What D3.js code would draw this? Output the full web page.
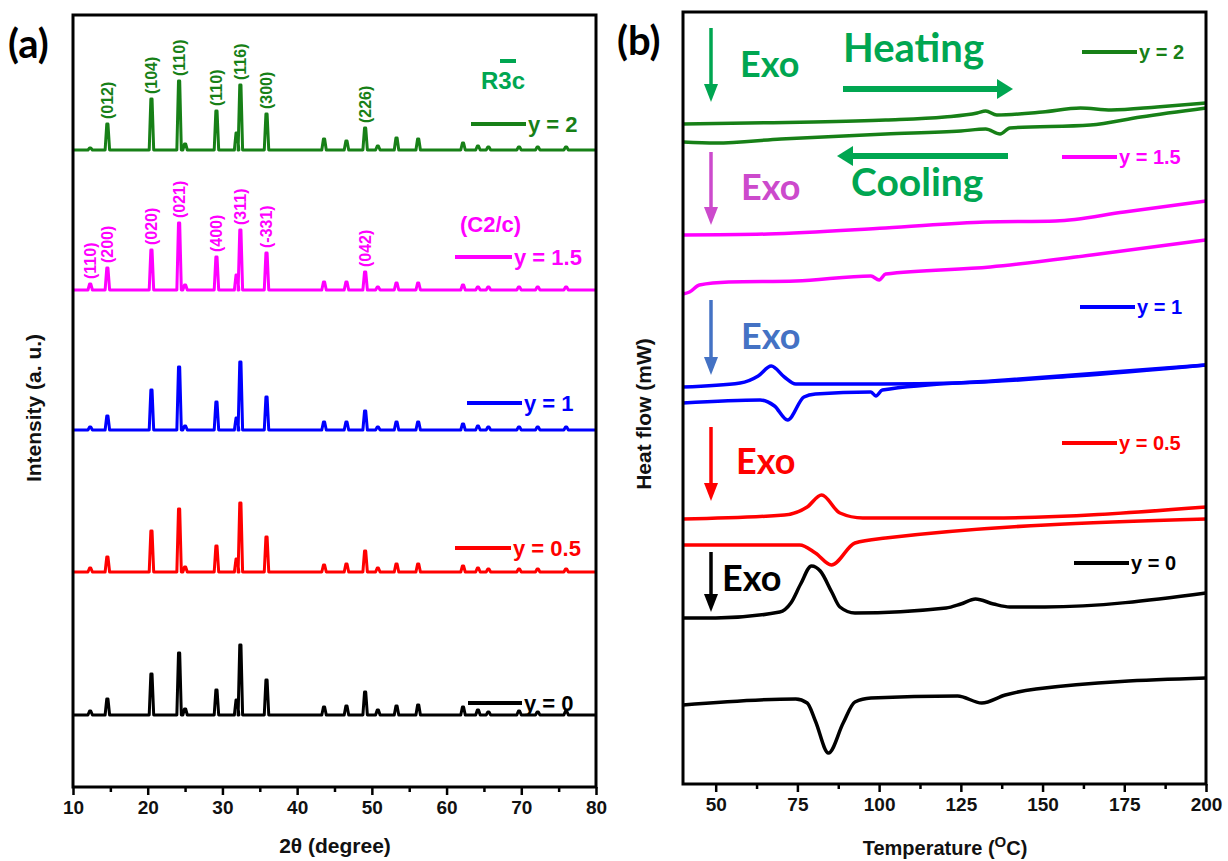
<!DOCTYPE html>
<html>
<head>
<meta charset="utf-8">
<script src="https://cdn.jsdelivr.net/npm/d3@7"></script>
<style>
body { margin: 0; background: #fff; }
text { font-family: "Liberation Sans", Arial, sans-serif; font-weight: bold; }
.cal { font-family: Lato, "Open Sans", sans-serif; font-weight: 700; }
</style>
</head>
<body>
<div class="container"></div>
<script>
// ---------- panel (a) : XRD ----------
var xrdNames = ["y = 0", "y = 0.5", "y = 1", "y = 1.5", "y = 2"];
var xrdColors = ["#000000", "#ff0000", "#0000ff", "#ff00ff", "#178017"];
var xrdBase = [72, 215, 357, 497, 637]; // baseline of each pattern (a.u.)
var peakPos = [12.3, 14.6, 20.5, 24.2, 25.0, 29.2, 31.9, 32.4, 35.9, 43.6, 46.6, 49.1, 50.8, 53.3, 56.2, 62.2, 64.2, 65.6, 69.7, 72.2, 76.0];
var peakH0 = [4, 16, 41, 62, 6, 25, 15, 70, 35, 8, 9, 23, 5, 9, 10, 8, 5, 3, 4, 3, 4];
var peakH05 = [4, 15, 41, 63, 5, 26, 13, 69, 35, 7, 8, 21, 4, 8, 8, 6, 4, 3, 3, 3, 3];
var peakH1 = [3, 14, 40, 63, 4, 28, 12, 68, 33, 8, 8, 19, 3, 8, 8, 6, 4, 3, 3, 3, 3];
var peakH15 = [6, 22, 40, 67, 5, 33, 15, 60, 37, 8, 8, 18, 3, 7, 7, 5, 3, 3, 3, 3, 3];
var peakH2 = [2, 26, 51, 69, 6, 39, 17, 65, 36, 11, 9, 22, 4, 12, 11, 7, 4, 3, 3, 3, 3];
var xrdHeights = [peakH0, peakH05, peakH1, peakH15, peakH2];

var hklR3c = ["(012)", "(104)", "(110)", "(110)", "(116)", "(300)", "(226)"];
var hklR3cPos = [14.6, 20.5, 24.2, 29.2, 32.4, 35.9, 49.1];
var hklC2c = ["(110)", "(200)", "(020)", "(021)", "(400)", "(311)", "(-331)", "(042)"];
var hklC2cPos = [12.3, 14.6, 20.5, 24.2, 29.2, 32.4, 35.9, 49.1];

var xTicksA = [10, 20, 30, 40, 50, 60, 70, 80];

// ---------- panel (b) : DSC, [T, heat flow a.u.] ----------
var dscNames = ["y = 0", "y = 0.5", "y = 1", "y = 1.5", "y = 2"];
var dscColors = ["#000000", "#ff0000", "#0000ff", "#ff00ff", "#178017"];
var dscHeat0 = [[40,166],[50,166],[69.6,172],[73,181],[76,200],[79.3,218],[82,213],[85.5,192],[88,177],[92.6,171],[120.5,176],[125,180],[129.5,185],[135,180],[140,177],[150.7,177],[200,191]];
var dscCool0 = [[40,79],[74.5,85],[78,81],[80.5,63],[84.5,31],[89,61],[92.6,82],[97.5,86],[124,88],[131.4,81],[138.6,89],[148,95],[200,106]];
var dscHeat05 = [[40,265],[71,269],[78,277],[82.4,289],[88,271],[95,266],[134,266],[200,277]];
var dscCool05 = [[40,239],[75.7,239],[80.5,231],[85.4,219],[92.6,241],[102,246],[200,265]];
var dscHeat1 = [[40,397],[57.5,401],[63,408],[67,418],[71,407],[74.5,400],[100,400],[124,401],[160,408],[200,419]];
var dscCool1 = [[40,381],[63.6,384],[68,378],[72,364],[77,387],[80.5,390],[97.5,392],[99,388],[101,394],[138.6,404],[200,419]];
var dscHeat15 = [[40,549],[66,550],[102,556],[132.6,562],[154,563],[175,572],[200,583]];
var dscCool15 = [[40,490],[42,492],[45,499],[54,502],[74.5,503],[97.5,508],[100,504],[102,510],[134,517],[165,529],[200,544]];
var dscHeat2 = [[40,660],[60,661],[80,662],[102,664],[120,667],[130,671],[132.6,673],[136,669],[150,672],[161.6,676],[171,674],[185,677],[200,681]];
var dscCool2 = [[40,642],[50,641],[70,645],[102,650],[125,653],[132.6,655],[137,650],[140,656],[164.6,659],[180,667],[200,676]];
var dscCurves = [[dscHeat0, dscCool0], [dscHeat05, dscCool05], [dscHeat1, dscCool1], [dscHeat15, dscCool15], [dscHeat2, dscCool2]];

var xTicksB = [50, 75, 100, 125, 150, 175, 200];

function makeStage(w, h) {
	var stage = d3.select(".container")
	.append("svg")
	.attr("width", w)
	.attr("height", h);
	stage.append("rect").attr("width", w).attr("height", h).attr("fill", "#fff");
	return stage;
}

// box + bottom axis with major and minor ticks
function drawFrame(stage, x, y, majors, minors) {
	var x0 = x.range()[0], x1 = x.range()[1], yb = y.range()[0], yt = y.range()[1];
	var g = stage.append("g").attr("transform", "translate(0," + yb + ")");
	g.call(d3.axisBottom(x).tickValues(majors).tickSize(8).tickSizeOuter(0).tickPadding(6));
	g.append("g").call(d3.axisBottom(x).tickValues(minors).tickSize(5).tickFormat(""))
		.select(".domain").remove();
	g.selectAll(".tick line").attr("stroke", "#000").attr("stroke-width", 2.5);
	g.selectAll(".domain").remove();
	g.selectAll(".tick text").attr("fill", "#111").style("font-size", "19px");
	stage.append("rect")
	.attr("x", x0).attr("y", yt)
	.attr("width", x1 - x0).attr("height", yb - yt)
	.attr("fill", "none").attr("stroke", "#000").attr("stroke-width", 3);
}

function drawLegend(stage, x1, x2, yy, name, color, size) {
	stage.append("line").attr("x1", x1).attr("x2", x2).attr("y1", yy).attr("y2", yy)
	.attr("stroke", color).attr("stroke-width", 4);
	stage.append("text").attr("x", x2 + 2).attr("y", yy).attr("dy", "0.35em")
	.attr("fill", color).style("font-size", size + "px").text(name);
}

function downArrow(stage, xx, y1, y2, color) {
	stage.append("line").attr("x1", xx).attr("x2", xx).attr("y1", y1).attr("y2", y2 - 14)
	.attr("stroke", color).attr("stroke-width", 3.5);
	stage.append("path").attr("d", "M" + (xx - 7) + "," + (y2 - 18) + "L" + (xx + 7) + "," + (y2 - 18) + "L" + xx + "," + y2 + "Z")
	.attr("fill", color);
}

function sideArrow(stage, xs, xe, yy, color) {
	var dir = xe > xs ? 1 : -1;
	stage.append("line").attr("x1", xs).attr("x2", xe - dir * 14).attr("y1", yy).attr("y2", yy)
	.attr("stroke", color).attr("stroke-width", 6);
	stage.append("path").attr("d", "M" + (xe - dir * 16) + "," + (yy - 10) + "L" + xe + "," + yy + "L" + (xe - dir * 16) + "," + (yy + 10) + "Z")
	.attr("fill", color);
}

var stage = makeStage(1228, 861);

// ===== panel (a) =====
var xA = d3.scaleLinear().domain([10, 80]).range([73, 596]);
var yA = d3.scaleLinear().domain([0, 772]).range([787, 15]);

// turn the peak list into a stick-like pattern for each sample
function patternPoints(base, heights) {
	var pts = [[10, base]];
	peakPos.forEach(function(p, i) {
		pts.push([p - 0.3, base], [p - 0.08, base + heights[i]], [p + 0.08, base + heights[i]], [p + 0.3, base]);
	});
	pts.push([80, base]);
	return pts;
}

var lineA = d3.line().x(function(d) { return xA(d[0]); }).y(function(d) { return yA(d[1]); });
xrdNames.forEach(function(n, i) {
	stage.append("path").datum(patternPoints(xrdBase[i], xrdHeights[i]))
	.attr("d", lineA).attr("fill", "none")
	.attr("stroke", xrdColors[i]).attr("stroke-width", 3).attr("stroke-linejoin", "round");
});

drawFrame(stage, xA, yA, xTicksA, [15, 25, 35, 45, 55, 65, 75]);

// hkl labels above peaks
function hklLabels(names, pos, series, color) {
	names.forEach(function(t, i) {
		var k = peakPos.indexOf(pos[i]);
		var top = xrdBase[series] + xrdHeights[series][k];
		stage.append("text")
		.attr("transform", "translate(" + xA(pos[i]) + "," + (yA(top) - 5) + ") rotate(-90)")
		.attr("dy", "0.35em")
		.attr("fill", color).style("font-size", "16px").text(t);
	});
}
hklLabels(hklR3c, hklR3cPos, 4, "#178017");
hklLabels(hklC2c, hklC2cPos, 3, "#ff00ff");

var legA = [703, 548, 403, 257, 124];
var legAx = [[468, 522], [455, 511], [467, 522], [455, 512], [471, 526]];
xrdNames.forEach(function(n, i) {
	drawLegend(stage, legAx[i][0], legAx[i][1], legA[i], n, xrdColors[i], 22);
});
stage.append("text").attr("x", 481).attr("y", 89).attr("fill", "#00a651").style("font-size", "24px").text("R3c");
stage.append("rect").attr("x", 500).attr("y", 59).attr("width", 16).attr("height", 4).attr("fill", "#00a651");
stage.append("text").attr("x", 460).attr("y", 232).attr("fill", "#ff00ff").style("font-size", "22px").text("(C2/c)");

stage.append("text").attr("x", 335).attr("y", 853).attr("text-anchor", "middle")
.attr("fill", "#111").style("font-size", "21px").text("2θ (degree)");
stage.append("text").attr("transform", "translate(41,408) rotate(-90)").attr("text-anchor", "middle")
.attr("fill", "#111").style("font-size", "21px").text("Intensity (a. u.)");
stage.append("text").attr("class", "cal").attr("x", 8).attr("y", 58).style("font-size", "40px").text("(a)");

// ===== panel (b) =====
var xB = d3.scaleLinear().domain([40, 200]).range([683, 1206]);
var yB = d3.scaleLinear().domain([0, 772]).range([784, 12]);
var lineB = d3.line().curve(d3.curveMonotoneX)
	.x(function(d) { return xB(d[0]); }).y(function(d) { return yB(d[1]); });

dscCurves.forEach(function(pair, i) {
	pair.forEach(function(c) {
		stage.append("path").datum(c).attr("d", lineB).attr("fill", "none")
		.attr("stroke", dscColors[i]).attr("stroke-width", 3.5);
	});
});

drawFrame(stage, xB, yB, xTicksB, [62.5, 87.5, 112.5, 137.5, 162.5, 187.5]);

var legB = [563, 443, 307, 157, 52];
var legBx = [[1074, 1129], [1062, 1117], [1080, 1135], [1062, 1117], [1082, 1137]];
dscNames.forEach(function(n, i) {
	drawLegend(stage, legBx[i][0], legBx[i][1], legB[i], n, dscColors[i], 20);
});

// Exo markers
var exoColors = ["#000000", "#ff0000", "#4472c4", "#cc4acc", "#00a651"];
var exoArrowY = [[552, 612], [427, 501], [300, 375], [152, 225], [28, 102]];
var exoTextX = [722, 736, 741, 741, 740];
var exoTextY = [591, 474, 349, 200, 77];
exoColors.forEach(function(c, i) {
	downArrow(stage, 711, exoArrowY[i][0], exoArrowY[i][1], c);
	stage.append("text").attr("class", "cal").attr("x", exoTextX[i]).attr("y", exoTextY[i])
	.attr("fill", c).style("font-size", "36px").text("Exo");
});

sideArrow(stage, 843, 1013, 89, "#00a651");
sideArrow(stage, 1008, 837, 156, "#00a651");
stage.append("text").attr("class", "cal").attr("x", 843).attr("y", 62).attr("fill", "#00a651").style("font-size", "40px").text("Heating");
stage.append("text").attr("class", "cal").attr("x", 851).attr("y", 196).attr("fill", "#00a651").style("font-size", "39px").text("Cooling");

stage.append("text").attr("transform", "translate(651,414) rotate(-90)").attr("text-anchor", "middle")
.attr("fill", "#111").style("font-size", "21px").text("Heat flow (mW)");
var tl = stage.append("text").attr("x", 945).attr("y", 855).attr("text-anchor", "middle")
.attr("fill", "#111").style("font-size", "20px");
tl.append("tspan").text("Temperature (");
tl.append("tspan").attr("dy", -8).style("font-size", "15px").text("O");
tl.append("tspan").attr("dy", 8).text("C)");
stage.append("text").attr("class", "cal").attr("x", 617).attr("y", 55).style("font-size", "40px").text("(b)");
</script>
</body>
</html>
